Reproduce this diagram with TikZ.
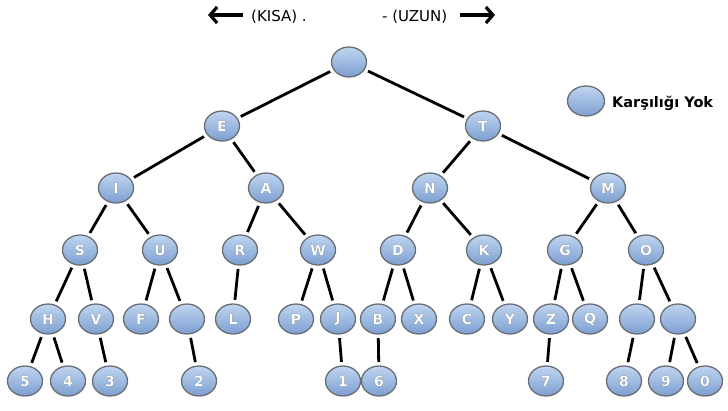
\documentclass[tikz,border=0pt]{standalone}
\usepackage{fontspec}
\setmainfont{DejaVu Sans}
\usepackage[outline]{contour}
\contourlength{1pt}
\usetikzlibrary{shapes.geometric,arrows.meta}
\definecolor{nodetop}{HTML}{BFD5F0}
\definecolor{nodebot}{HTML}{7C9FD0}
\definecolor{nodeline}{HTML}{6A6E74}
\tikzset{
  mnode/.style={ellipse, minimum width=35pt, minimum height=30pt, inner sep=0pt,
    top color=nodetop, bottom color=nodebot, draw=nodeline, line width=1.3pt,
    font=\fontsize{14}{14}\selectfont\bfseries},
  edge/.style={line width=2.8pt, shorten <=3.5pt, shorten >=3.5pt, black},
  hdr/.style={font=\fontsize{15}{15}\selectfont, inner sep=0pt},
  hdrarrow/.style={line width=3.2pt, -{Straight Barb[length=7pt,width=16pt]}}
}
\newcommand{\ml}[1]{\contour{black!80}{\textcolor{white}{#1}}}
\begin{document}
\begin{tikzpicture}[x=1pt,y=-1pt]
\useasboundingbox (0,0) rectangle (728,410);
% header
\coordinate (la1) at (243,15);
\coordinate (la2) at (208,15);
\draw[hdrarrow] (la1) -- (la2);
\node[hdr, anchor=west] (kisa) at (251,17) {(KISA) .};
\node[hdr, anchor=west] (uzun) at (382,17) {- (UZUN)};
\coordinate (ra1) at (460,15);
\coordinate (ra2) at (495,15);
\draw[hdrarrow] (ra1) -- (ra2);
% legend
\node[mnode, minimum width=37pt] (leg) at (586,101) {};
\node[font=\fontsize{14.5}{14.5}\selectfont\bfseries, anchor=west, inner sep=0pt] (legt) at (612,103) {Karşılığı Yok};
% tree nodes
\node[mnode] (root) at (349,62) {};
\node[mnode] (E) at (222,126) {\ml{E}};
\node[mnode] (T) at (483,126) {\ml{T}};
\node[mnode] (I) at (116,188) {\ml{I}};
\node[mnode] (A) at (266,188) {\ml{A}};
\node[mnode] (N) at (430,188) {\ml{N}};
\node[mnode] (M) at (608,188) {\ml{M}};
\node[mnode] (S) at (80,250) {\ml{S}};
\node[mnode] (U) at (160,250) {\ml{U}};
\node[mnode] (R) at (240,250) {\ml{R}};
\node[mnode] (W) at (318,250) {\ml{W}};
\node[mnode] (D) at (398,250) {\ml{D}};
\node[mnode] (K) at (484,250) {\ml{K}};
\node[mnode] (G) at (565,250) {\ml{G}};
\node[mnode] (O) at (646,250) {\ml{O}};
\node[mnode] (H) at (48,319) {\ml{H}};
\node[mnode] (V) at (96,319) {\ml{V}};
\node[mnode] (F) at (141,319) {\ml{F}};
\node[mnode] (e1) at (187,319) {};
\node[mnode] (L) at (233,319) {\ml{L}};
\node[mnode] (P) at (296,319) {\ml{P}};
\node[mnode] (J) at (338,319) {\ml{J}};
\node[mnode] (B) at (378,319) {\ml{B}};
\node[mnode] (X) at (419,319) {\ml{X}};
\node[mnode] (C) at (467,319) {\ml{C}};
\node[mnode] (Y) at (510,319) {\ml{Y}};
\node[mnode] (Z) at (551,319) {\ml{Z}};
\node[mnode] (Q) at (590,319) {\ml{Q}};
\node[mnode] (e2) at (637,319) {};
\node[mnode] (e3) at (678,319) {};
\node[mnode] (n5) at (25,381) {\ml{5}};
\node[mnode] (n4) at (68,381) {\ml{4}};
\node[mnode] (n3) at (110,381) {\ml{3}};
\node[mnode] (n2) at (199,381) {\ml{2}};
\node[mnode] (n1) at (343,381) {\ml{1}};
\node[mnode] (n6) at (379,381) {\ml{6}};
\node[mnode] (n7) at (546,381) {\ml{7}};
\node[mnode] (n8) at (624,381) {\ml{8}};
\node[mnode] (n9) at (666,381) {\ml{9}};
\node[mnode] (n0) at (705,381) {\ml{0}};
% edges
\foreach \a/\b in {root/E,root/T,E/I,E/A,T/N,T/M,I/S,I/U,A/R,A/W,N/D,N/K,M/G,M/O,
  S/H,S/V,U/F,U/e1,R/L,W/P,W/J,D/B,D/X,K/C,K/Y,G/Z,G/Q,O/e2,O/e3,
  H/n5,H/n4,V/n3,e1/n2,J/n1,B/n6,Z/n7,e2/n8,e3/n9,e3/n0}
  \draw[edge] (\a) -- (\b);
\end{tikzpicture}
\end{document}
